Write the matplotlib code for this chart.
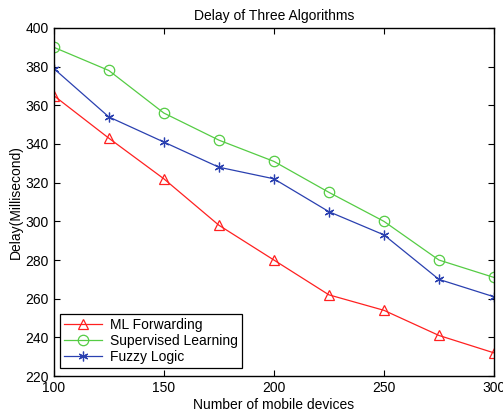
import matplotlib.pyplot as plt

plt.rcParams['font.family'] = ['Liberation Sans', 'DejaVu Sans']

devices = [100, 125, 150, 175, 200, 225, 250, 275, 300]
ml_forwarding = [365, 343, 322, 298, 280, 262, 254, 241, 232]
supervised = [390, 378, 356, 342, 331, 315, 300, 280, 271]
fuzzy = [379, 354, 341, 328, 322, 305, 293, 270, 261]

fig = plt.figure(figsize=(5.03, 4.11), dpi=100)
ax = fig.add_axes([0.107, 0.085, 0.875, 0.847])

ax.plot(devices, ml_forwarding, color='#ff2020', lw=0.9, marker='^', ms=7.5,
        mfc='none', mec='#ff2020', mew=0.9, label='ML Forwarding')
ax.plot(devices, supervised, color='#55cc44', lw=0.9, marker='o', ms=7.5,
        mfc='none', mec='#55cc44', mew=0.9, label='Supervised Learning')
ax.plot(devices, fuzzy, color='#2a40b0', lw=0.9, marker=(6, 2, 0), ms=7,
        mec='#2a40b0', mew=0.9, label='Fuzzy Logic')

ax.set_xlim(100, 300)
ax.set_ylim(220, 400)
ax.set_xticks(range(100, 301, 50))
ax.set_yticks(range(220, 401, 20))
ax.tick_params(direction='in', top=True, right=True, labelsize=10, length=4, width=0.8)
for s in ax.spines.values():
    s.set_linewidth(1.0)

ax.set_title('Delay of Three Algorithms', fontsize=10, pad=6)
ax.set_xlabel('Number of mobile devices', fontsize=10, labelpad=2)
ax.set_ylabel('Delay(Millisecond)', fontsize=10, labelpad=2)

leg = ax.legend(loc='lower left', bbox_to_anchor=(0.008, 0.015), fontsize=10,
                fancybox=False, framealpha=1, edgecolor='black',
                handlelength=2.7, handletextpad=0.6, borderpad=0.3,
                labelspacing=0.15, borderaxespad=0.2)
leg.get_frame().set_linewidth(0.9)

fig.savefig('out.png', dpi=100)
